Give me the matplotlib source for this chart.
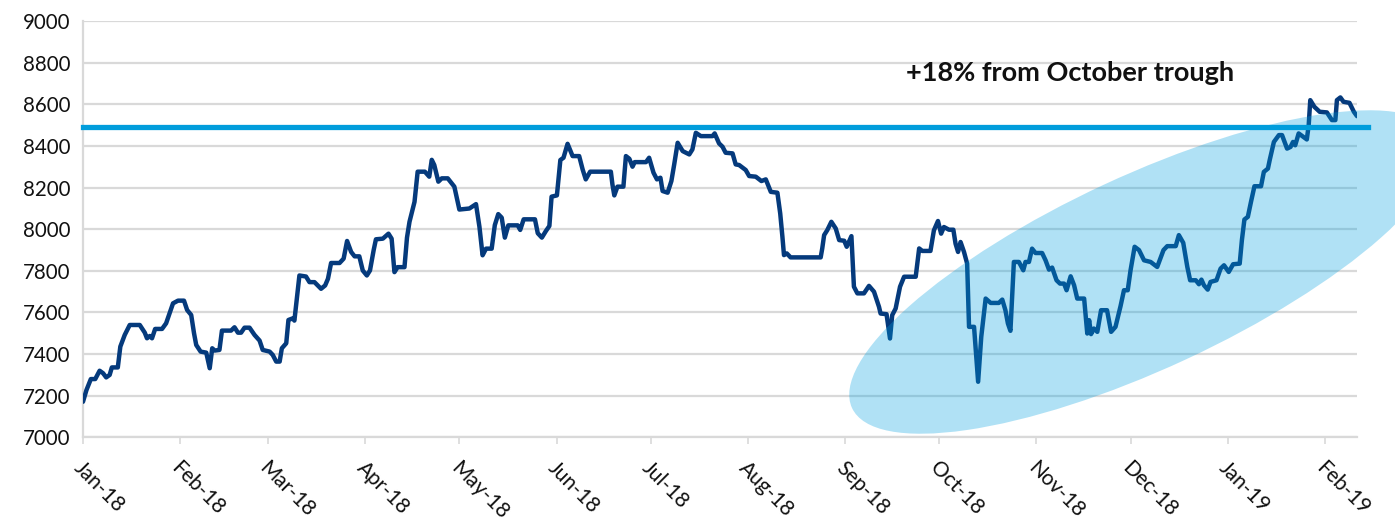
import matplotlib
matplotlib.use("Agg")
import matplotlib.pyplot as plt
from matplotlib.patches import Ellipse
from matplotlib.transforms import ScaledTranslation
import pandas as pd
import numpy as np

# ---- data ----
start_date = "2018-01-01"
day_offsets = [
    0.0, 1.1, 2.5, 3.9, 5.3, 6.4, 7.4, 8.5, 9.2, 11.1, 11.9, 13.3, 14.9, 18.1, 19.7, 20.4,
    21.3, 22.0, 23.0, 25.2, 26.5, 27.6, 28.7, 30.3, 32.2, 33.2, 34.5, 35.4, 36.1, 37.5, 39.3,
    40.4, 41.2, 42.0, 43.5, 44.3, 47.2, 48.3, 49.4, 50.4, 51.5, 53.1, 54.7, 56.3, 57.3, 59.5,
    60.5, 61.6, 62.7, 63.4, 64.8, 65.5, 66.9, 67.4, 69.0, 71.1, 72.2, 73.8, 75.9, 77.2, 78.1,
    79.1, 81.8, 83.1, 84.2, 85.5, 86.6, 88.1, 89.2, 90.5, 91.5, 92.7, 93.4, 95.6, 97.4, 98.4,
    99.3, 100.3, 102.5, 103.3, 104.1, 105.7, 106.7, 109.0, 110.4, 111.2, 112.0, 113.3, 114.4,
    116.3, 118.4, 120.0, 123.2, 125.3, 126.4, 127.4, 128.5, 130.3, 131.3, 132.4, 133.5, 134.5,
    135.6, 138.6, 139.4, 140.5, 144.1, 145.0, 146.3, 147.6, 148.7, 149.4, 151.1, 152.2, 153.2,
    154.5, 156.1, 158.2, 159.3, 160.3, 161.7, 168.3, 168.8, 169.4, 170.4, 172.3, 173.1, 174.2,
    175.2, 175.9, 179.5, 180.5, 181.9, 183.0, 184.1, 184.8, 186.4, 187.6, 188.5, 189.6, 191.2,
    193.3, 194.3, 195.4, 197.0, 200.7, 201.4, 202.8, 203.9, 204.9, 207.1, 208.1, 209.2, 211.3,
    212.4, 214.5, 216.3, 217.7, 219.3, 221.4, 222.3, 223.0, 223.5, 224.4, 225.6, 235.2, 235.7,
    236.3, 237.3, 238.6, 240.0, 241.1, 242.7, 243.5, 245.0, 245.8, 246.9, 249.0, 250.6, 252.2,
    253.8, 254.3, 256.2, 257.3, 258.0, 259.1, 260.5, 261.8, 265.5, 266.6, 267.6, 270.2, 271.3,
    272.6, 273.6, 274.5, 276.1, 277.5, 278.2, 279.0, 279.8, 280.9, 281.9, 282.5, 284.1, 285.4,
    286.4, 287.8, 289.4, 292.0, 293.1, 294.1, 294.9, 295.7, 296.8, 298.4, 299.8, 300.5, 301.6,
    302.6, 303.7, 305.8, 306.9, 308.0, 309.0, 310.4, 311.5, 312.8, 313.6, 314.9, 316.0, 317.0,
    319.2, 320.2, 320.8, 321.4, 322.3, 323.4, 324.6, 326.5, 327.8, 329.2, 330.8, 331.9, 333.1,
    334.0, 335.3, 336.7, 338.3, 340.4, 342.5, 344.5, 345.7, 348.4, 349.4, 350.8, 352.1, 353.0,
    354.8, 355.8, 356.6, 357.4, 358.6, 359.5, 361.4, 362.7, 363.8, 365.3, 366.7, 368.8, 369.5,
    370.3, 371.4, 372.4, 373.5, 375.6, 376.5, 377.8, 378.4, 379.7, 381.3, 382.3, 383.9, 385.0,
    385.8, 386.5, 387.6, 390.2, 390.8, 391.3, 392.6, 394.3, 396.6, 398.2, 399.3, 399.8, 400.9,
    401.9, 403.8, 405.2, 406.2,
]
index_values = [
    7171, 7227, 7280, 7280, 7320, 7308, 7288, 7300, 7336, 7336, 7436, 7492, 7540, 7540, 7503, 7476,
    7487, 7476, 7521, 7521, 7548, 7596, 7644, 7657, 7657, 7612, 7588, 7500, 7444, 7412, 7407,
    7332, 7428, 7417, 7420, 7513, 7513, 7529, 7503, 7503, 7527, 7527, 7492, 7465, 7420, 7412,
    7396, 7364, 7364, 7428, 7452, 7564, 7572, 7561, 7778, 7773, 7746, 7746, 7714, 7730, 7762,
    7838, 7838, 7859, 7944, 7891, 7870, 7870, 7802, 7778, 7802, 7902, 7952, 7955, 7979, 7955,
    7794, 7818, 7818, 7960, 8036, 8132, 8277, 8277, 8253, 8334, 8309, 8229, 8245,
    8245, 8205, 8095, 8100, 8121, 8012, 7875, 7907, 7907, 8020, 8073, 8056, 7960,
    8019, 8019, 7997, 8048, 8048, 7981, 7960, 7992, 8016, 8157, 8163, 8333, 8344,
    8411, 8352, 8352, 8288, 8240, 8277, 8277, 8216, 8163, 8205, 8205, 8352, 8339,
    8301, 8323, 8323, 8344, 8272, 8240, 8248, 8184, 8176, 8232, 8312, 8416, 8376,
    8360, 8384, 8464, 8448, 8448, 8461, 8413, 8397, 8368, 8365, 8312, 8309, 8285,
    8256, 8253, 8232, 8240, 8180, 8176, 8076, 7964, 7876, 7884, 7865, 7865, 7908,
    7972, 7996, 8036, 8004, 7948, 7945, 7916, 7967, 7724, 7692, 7692, 7728, 7700,
    7627, 7595, 7592, 7475, 7587, 7619, 7724, 7772, 7772, 7908, 7896, 7896, 7995,
    8040, 7979, 8011, 7998, 7998, 7931, 7891, 7939, 7891, 7835, 7531, 7531, 7267,
    7483, 7667, 7646, 7646, 7662, 7611, 7547, 7512, 7843, 7843, 7803, 7843, 7843,
    7907, 7886, 7886, 7851, 7806, 7816, 7755, 7739, 7739, 7707, 7774, 7731, 7667,
    7667, 7499, 7563, 7496, 7523, 7507, 7611, 7611, 7507, 7531, 7630, 7707, 7707,
    7803, 7916, 7900, 7851, 7843, 7819, 7900, 7919, 7919, 7972, 7935, 7819, 7755,
    7755, 7736, 7758, 7731, 7710, 7747, 7755, 7811, 7827, 7795, 7832, 7835, 7948,
    8047, 8060, 8132, 8207, 8207, 8276, 8292, 8335, 8420, 8453, 8453, 8388, 8396,
    8420, 8404, 8461, 8432, 8501, 8621, 8589, 8565, 8562, 8525, 8525, 8621, 8634,
    8613, 8608, 8565, 8544,
]
resistance_level = 8490
y_ticks = [7000, 7200, 7400, 7600, 7800, 8000, 8200, 8400, 8600, 8800, 9000]
month_ticks = pd.date_range("2018-01-01", "2019-02-01", freq="MS")
annotation_text = "+18% from October trough"

# ---- build ----
dates = pd.Timestamp(start_date) + pd.to_timedelta(np.array(day_offsets), unit="D")

W, H, DPI = 1395, 517, 100
fig = plt.figure(figsize=(W / DPI, H / DPI), dpi=DPI)
ax = fig.add_axes([83 / W, 1 - 437.3 / H, (1357 - 83) / W, (437.3 - 21.3) / H])

FONT = "Lato"
grid_c = "#d9d9d9"
text_c = "#111111"

ax.plot(dates, index_values, color="#053a7c", lw=3.2, solid_joinstyle="round",
        solid_capstyle="round", zorder=3)

ax.set_ylim(7000, 9000)
ax.set_xlim(pd.Timestamp("2018-01-01"), pd.Timestamp(start_date) + pd.Timedelta(days=406.2))
ax.set_yticks(y_ticks)
ax.set_yticklabels([str(v) for v in y_ticks], fontsize=14.8, fontfamily=FONT, color=text_c)
ax.yaxis.grid(True, color=grid_c, lw=1.6, zorder=0)
ax.set_axisbelow(True)
ax.tick_params(axis="y", length=0, pad=9)

ax.set_xticks(month_ticks)
ax.set_xticklabels([d.strftime("%b-%y") for d in month_ticks], fontsize=15,
                   fontfamily=FONT, color=text_c)
ax.tick_params(axis="x", length=5, width=1.2, color=grid_c, pad=15)
offset = ScaledTranslation(-4 / 72, 0, fig.dpi_scale_trans)
for lab in ax.get_xticklabels():
    lab.set_rotation(-45)
    lab.set_rotation_mode("anchor")
    lab.set_ha("left")
    lab.set_va("center")
    lab.set_transform(lab.get_transform() + offset)

for s in ["top", "right"]:
    ax.spines[s].set_visible(False)
for s in ["left", "bottom"]:
    ax.spines[s].set_color(grid_c)
    ax.spines[s].set_linewidth(1.6)

# resistance line (extends slightly beyond axes on the right)
ax.axhline(resistance_level, xmin=0, xmax=1.009, color="#009ddc", lw=3.8, zorder=5,
           clip_on=False)

# highlight ellipse (figure inches, drawn over the line)
ell = Ellipse((1145 / DPI, (H - 272) / DPI), width=2 * 323 / DPI, height=2 * 96.5 / DPI,
              angle=24.9, transform=fig.dpi_scale_trans, facecolor="#00a0e0",
              alpha=0.31, edgecolor="none", zorder=4, clip_on=False)
ax.add_patch(ell)

fig.text(906 / W, 1 - 81 / H, annotation_text, fontsize=19.5, fontweight="bold",
         fontfamily=FONT, color=text_c, ha="left", va="baseline")

fig.savefig("out.png", dpi=DPI)
